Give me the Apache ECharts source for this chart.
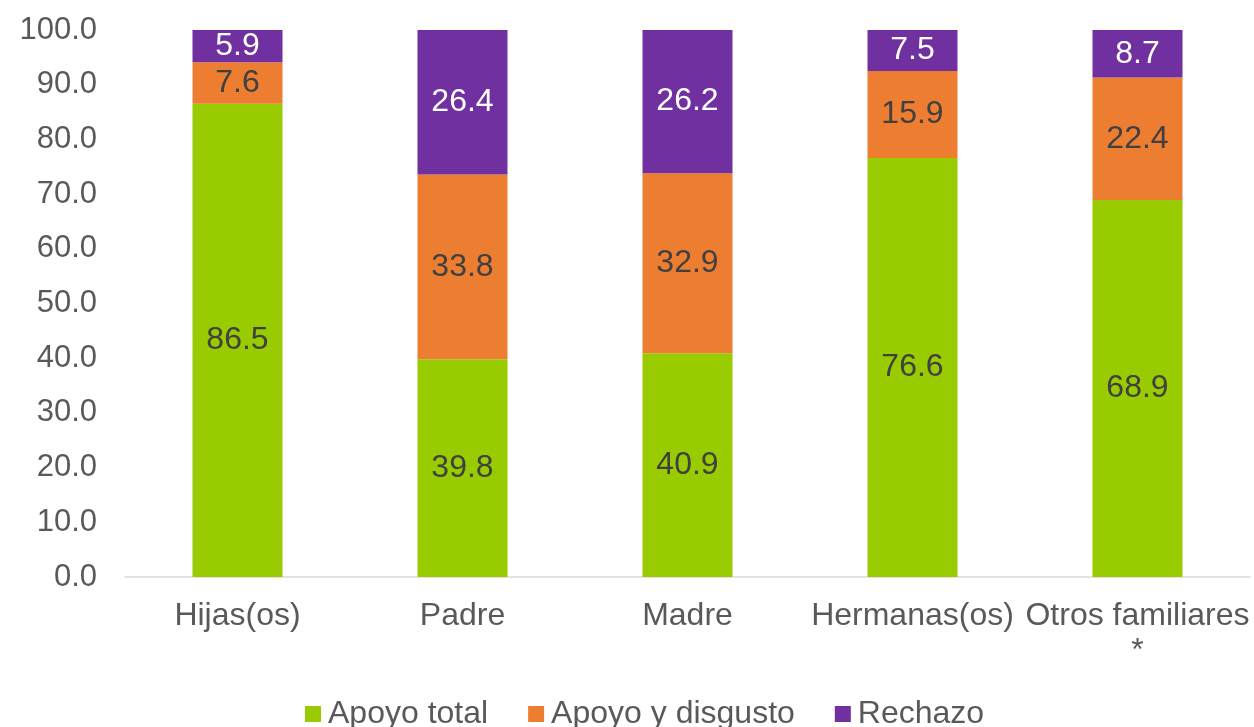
<!DOCTYPE html>
<html>
<head>
<meta charset="utf-8">
<script src="https://cdn.jsdelivr.net/npm/echarts@6/dist/echarts.min.js"></script>
<style>
  html, body { margin: 0; padding: 0; background: #fff; }
  #chart { width: 1254px; height: 727px; }
</style>
</head>
<body>
<div id="chart"></div>
<script>
const categories = ['Hijas(os)', 'Padre', 'Madre', 'Hermanas(os)', 'Otros familiares\n*']
const apoyoTotal = [86.5, 39.8, 40.9, 76.6, 68.9]
const apoyoDisgusto = [7.6, 33.8, 32.9, 15.9, 22.4]
const rechazo = [5.9, 26.4, 26.2, 7.5, 8.7]

const font = 'Liberation Sans, Arial, sans-serif'
const labelStyle = (color) => ({
  show: true,
  position: 'inside',
  color: color,
  fontSize: 32,
  fontFamily: font,
  formatter: p => p.value.toFixed(1),
})

const chart = echarts.init(document.getElementById('chart'))
chart.setOption({
  animation: false,
  grid: { left: 125, right: 4, top: 30, bottom: 150 },
  legend: {
    top: 698,
    left: 305,
    padding: 0,
    itemWidth: 16,
    itemHeight: 16,
    itemGap: 40,
    icon: 'rect',
    textStyle: { fontSize: 32, color: '#595959', fontFamily: font, padding: [0, 0, 0, 2] },
  },
  xAxis: {
    type: 'category',
    data: categories,
    axisTick: { show: false },
    axisLine: { lineStyle: { color: '#d9d9d9', width: 1.5 } },
    axisLabel: {
      fontSize: 32,
      color: '#595959',
      fontFamily: font,
      margin: 22,
      lineHeight: 35,
      interval: 0,
    },
  },
  yAxis: {
    type: 'value',
    min: 0,
    max: 100,
    interval: 10,
    splitLine: { show: false },
    axisLine: { show: false },
    axisLabel: {
      fontSize: 31,
      color: '#595959',
      fontFamily: font,
      margin: 28,
      formatter: v => v.toFixed(1),
    },
  },
  series: [
    {
      name: 'Apoyo total',
      type: 'bar',
      stack: 'total',
      barWidth: 90,
      data: apoyoTotal,
      itemStyle: { color: '#99cc00' },
      label: labelStyle('#404040'),
    },
    {
      name: 'Apoyo y disgusto',
      type: 'bar',
      stack: 'total',
      data: apoyoDisgusto,
      itemStyle: { color: '#ed7d31' },
      label: labelStyle('#404040'),
    },
    {
      name: 'Rechazo',
      type: 'bar',
      stack: 'total',
      data: rechazo,
      itemStyle: { color: '#7030a0' },
      label: labelStyle('#ffffff'),
    },
  ],
})
</script>
</body>
</html>
